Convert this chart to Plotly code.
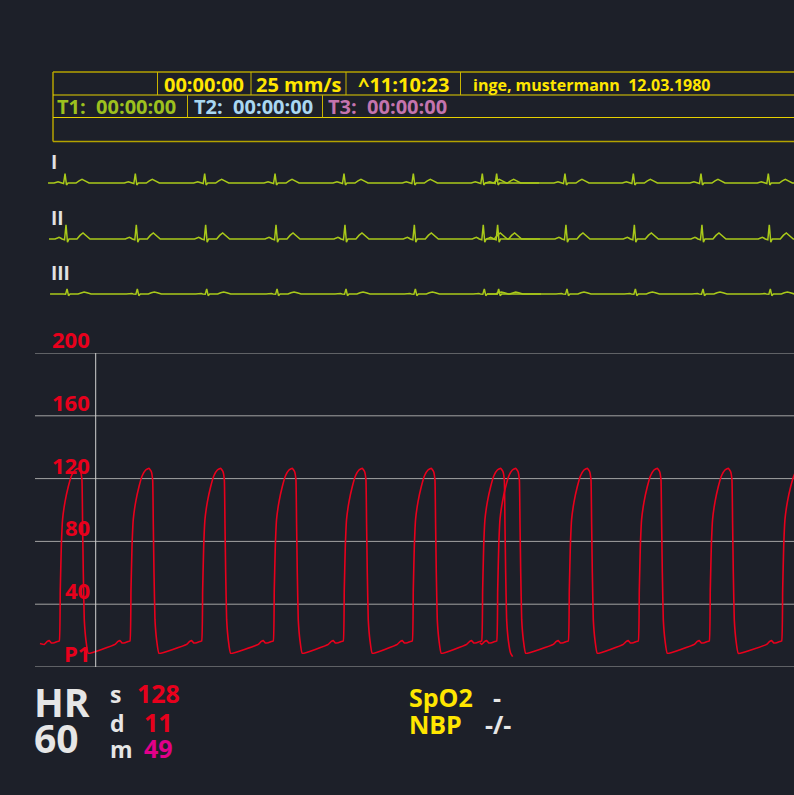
import plotly.graph_objects as go

W, H = 794, 795
BG = "#1d2029"
FONT = "Open Sans"

# ---------------- data ----------------
# time axis in seconds (sweep ~70 px per second)
sweep_end = 11.343

# ECG: R-peak times of the newest sweep (left) and the older sweep (right)
ecg_beats_left = [0.929, 1.933, 2.924, 3.929, 4.914, 5.905, 6.890]
ecg_beats_right = [7.095, 8.071, 9.048, 10.014, 10.976]
ecg_left_span = [0.686, 7.70]
ecg_right_span = [6.93, 11.40]

# one beat template relative to the R peak (s) and amplitudes in mV per lead
ecg_tpl_t = [-0.157, -0.121, -0.100, -0.079, -0.057, -0.021, 0.0, 0.021, 0.043,
             0.157, 0.200, 0.243, 0.286, 0.343]
lead_names = ["I", "II", "III"]
lead_amps = {
    "I":   [0, 0.08, 0.13, 0.08, 0, -0.05, 0.93, -0.20, 0, 0, 0.22, 0.37, 0.22, 0],
    "II":  [0, 0.10, 0.17, 0.10, 0, -0.07, 1.43, -0.33, 0, 0, 0.36, 0.60, 0.36, 0],
    "III": [0, 0.04, 0.07, 0.04, 0, -0.03, 0.50, -0.17, 0, 0, 0.12, 0.20, 0.12, 0],
}
lead_lag = [0.0, 0.014, 0.029]

# Arterial pressure P1 (mmHg): upstroke times of both sweeps
p_beats_left = [0.847, 1.857, 2.881, 3.904, 4.904, 5.890, 6.881]
p_beats_right = [7.096, 8.119, 9.119, 10.133, 11.167]
p_left_start = [0.571, 15.0]
p_left_end = [7.324, 6.6]
p_right_start = [6.857, 15.5]
# systolic part relative to upstroke
p_sys_t = [0, 0.014, 0.029, 0.047, 0.081, 0.129, 0.176, 0.224, 0.271, 0.304,
           0.324, 0.333, 0.343, 0.357, 0.381, 0.414]
p_sys_v = [16.5, 49, 77, 94, 105, 115, 122, 125.5, 126.5, 124.5,
           119, 91, 60, 30, 17, 8.7]
# late diastolic part relative to the next upstroke
p_pre_t = [-0.214, -0.171, -0.143, -0.114, -0.071, -0.029]
p_pre_v = [14.4, 16.3, 16.8, 15.3, 15.5, 16.2]

p_ticks = [0, 40, 80, 120, 160, 200]
p_tick_labels = ["P1", "40", "80", "120", "160", "200"]
cursor_t = 1.367

# header / numeric texts
hdr_row1 = ["00:00:00", "25 mm/s", "^11:10:23"]
patient = "inge, mustermann\u00a0\u00a012.03.1980"
timers = ["T1:", "T2:", "T3:"]
timer_vals = ["00:00:00", "00:00:00", "00:00:00"]
timer_colors = ["#9dc11e", "#a9d7f2", "#c474ae"]
hr_label, hr_value = "HR", "60"
bp_keys = ["s", "d", "m"]
bp_vals = ["128", "11", "49"]
bp_colors = ["#e8001c", "#e8001c", "#e2008a"]
spo2_val = "-"
nbp_val = "-/-"

# ---------------- helpers ----------------
def px(x):
    return x / W

def py(y):
    return 1 - y / H

def build_ecg(beats, span, amps, lag):
    t = [span[0] + lag]
    v = [0.0]
    for b in beats:
        for dt, a in zip(ecg_tpl_t, amps):
            tt = b + dt + lag
            if span[0] + lag <= tt <= span[1] + lag:
                t.append(tt)
                v.append(a)
    t.append(span[1] + lag)
    v.append(0.0)
    return t, v

def build_p(beats, start, end=None):
    t = [start[0]]
    v = [start[1]]
    for b in beats:
        for dt, val in zip(p_pre_t, p_pre_v):
            if b + dt > t[-1]:
                t.append(b + dt)
                v.append(val)
        for dt, val in zip(p_sys_t, p_sys_v):
            t.append(b + dt)
            v.append(val)
    if end is not None:
        t.append(end[0])
        v.append(end[1])
    return t, v

fig = go.Figure()

ECG_COLOR = "#a9c91a"
P_COLOR = "#e8001c"

lead_axes = ["y2", "y3", "y4"]
for name, ax, lag in zip(lead_names, lead_axes, lead_lag):
    for beats, span in ((ecg_beats_left, ecg_left_span), (ecg_beats_right, ecg_right_span)):
        t, v = build_ecg(beats, span, lead_amps[name], lag)
        fig.add_trace(go.Scatter(x=t, y=v, mode="lines", xaxis="x", yaxis=ax,
                                 line=dict(color=ECG_COLOR, width=1.5),
                                 hoverinfo="skip", showlegend=False))

t, v = build_p(p_beats_left, p_left_start, p_left_end)
fig.add_trace(go.Scatter(x=t, y=v, mode="lines", xaxis="x2", yaxis="y",
                         line=dict(color=P_COLOR, width=1.6, shape="spline", smoothing=0.3),
                         hoverinfo="skip", showlegend=False))
t, v = build_p(p_beats_right, p_right_start)
fig.add_trace(go.Scatter(x=t, y=v, mode="lines", xaxis="x2", yaxis="y",
                         line=dict(color=P_COLOR, width=1.6, shape="spline", smoothing=0.3),
                         hoverinfo="skip", showlegend=False))

# ---------------- layout ----------------
hidden = dict(visible=False, fixedrange=True)
lead_base_px = [183, 239, 294]
lead_domains = [[py(b + 10), py(b - 20)] for b in lead_base_px]

layout = dict(
    width=W, height=H,
    margin=dict(l=0, r=0, t=0, b=0),
    paper_bgcolor=BG, plot_bgcolor=BG,
    showlegend=False,
    xaxis=dict(domain=[0, 1], range=[0, sweep_end], **hidden),
    xaxis2=dict(domain=[px(35), 1], range=[35 / 70, sweep_end], **hidden),
    yaxis=dict(domain=[py(667), py(353)], range=[0, 200], anchor="x2",
               showticklabels=False, showgrid=False, zeroline=False,
               showline=False, ticks="", fixedrange=True),
)
for ax, dom in zip(lead_axes, lead_domains):
    layout["yaxis" + ax[1:]] = dict(domain=dom, range=[-1, 2], anchor="x", **hidden)
fig.update_layout(**layout)

annotations = []
shapes = []

def txt(text, x, y, size, color, xanchor="left", yanchor="middle", xref="paper", yref="paper", yshift=0):
    annotations.append(dict(text=text, x=x, y=y, xref=xref, yref=yref,
                            xanchor=xanchor, yanchor=yanchor, showarrow=False,
                            yshift=yshift,
                            font=dict(family=FONT, size=size, color=color, weight="bold")))

# pressure grid lines and scale labels
for val, lab in zip(p_ticks, p_tick_labels):
    shapes.append(dict(type="line", xref="paper", yref="y", x0=px(35), x1=1,
                       y0=val, y1=val, line=dict(color="#a3a3a3", width=1), layer="below"))
    txt(lab, px(92), val, 22, P_COLOR, xanchor="right", yref="y", yshift=14)

# lead labels
for name, b in zip(lead_names, lead_base_px):
    txt(name, px(49), py(b - 21), 19, "#e2e2e2")

# header box
def line(x0, y0, x1, y1, color="#dcc600", width=1):
    shapes.append(dict(type="line", xref="paper", yref="paper",
                       x0=px(x0), y0=py(y0), x1=px(x1), y1=py(y1),
                       line=dict(color=color, width=width)))

line(53, 72, 800, 72, "#b4a200", 1.5)
line(53, 141.5, 800, 141.5, "#b4a200", 1.5)
line(53, 72, 53, 141.5, "#b4a200", 1.5)
line(53, 95, 800, 95, "#e6d000", 1)
line(53, 117.5, 800, 117.5, "#e6d000", 1)
for xv in (157.5, 251, 346, 460.5):
    line(xv, 72, xv, 95, "#c9b400", 1)
for xv in (187.5, 322.5):
    line(xv, 95, xv, 117.5, "#c9b400", 1)

# cursor line in pressure field
shapes.append(dict(type="line", xref="x2", yref="y", x0=cursor_t, x1=cursor_t,
                   y0=0, y1=200, line=dict(color="#cfcfcf", width=1)))

YEL = "#ffe600"
for s, cx in zip(hdr_row1, (204, 298.5, 403)):
    txt(s, px(cx), py(84.5), 20, YEL, xanchor="center")
txt(patient, px(471), py(85), 16, YEL)
for lab, val, col, lx in zip(timers, timer_vals, timer_colors, (55, 192, 326)):
    txt(lab + "\u00a0\u00a0" + val, px(lx), py(106.5), 20, col)

# bottom numerics
GREY = "#e6e6e6"
txt(hr_label, px(32), py(701), 39, GREY)
txt(hr_value, px(32), py(737), 39, GREY)
for k, val, col, base in zip(bp_keys, bp_vals, bp_colors, (703, 731.5, 757.5)):
    txt(k, px(108), py(base - 9), 23, GREY)
    txt(val, px(158.5), py(base - 10), 25, col, xanchor="center")
txt("SpO2", px(407), py(696.5), 25, YEL)
txt("NBP", px(407), py(723.5), 25, YEL)
txt(spo2_val, px(497), py(696.5), 25, GREY, xanchor="center")
txt(nbp_val, px(497.5), py(723.5), 25, GREY, xanchor="center")

fig.update_layout(annotations=annotations, shapes=shapes)
fig.write_html("out.html", config={"displayModeBar": False},
               post_script="document.body.style.margin='0';document.body.style.overflow='hidden';")
